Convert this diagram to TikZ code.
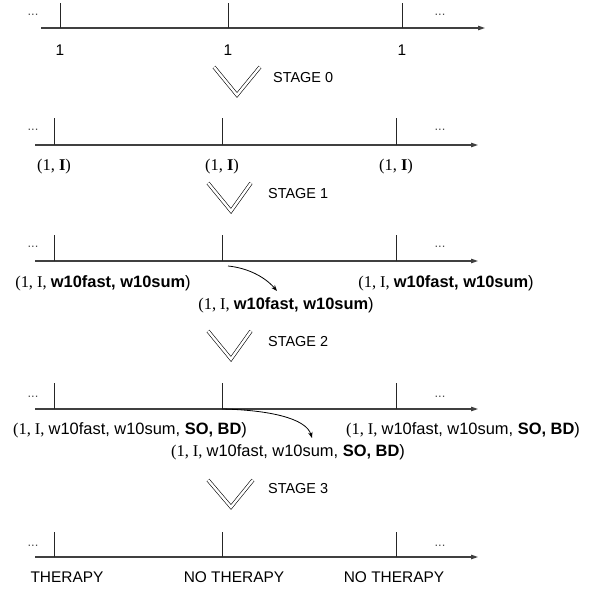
\documentclass[tikz,border=0pt]{standalone}
\usepackage{fontspec}
\setmainfont{Liberation Sans}
\newfontfamily\seriffont{Liberation Serif}
\usetikzlibrary{arrows.meta}
\begin{document}
\begin{tikzpicture}[x=1bp,y=-1bp,
  axis/.style={draw=black!75, line width=1.1bp, -{Triangle[length=7bp,width=4.5bp]}},
  tickline/.style={draw=black!85, line width=0.8bp},
  dots/.style={font=\fontsize{13}{13}\selectfont, text=black!70, inner sep=0, anchor=base},
  lab/.style={font=\fontsize{16.5}{18}\selectfont, inner sep=0},
  one/.style={font=\fontsize{15.5}{17}\selectfont, inner sep=0},
  stage/.style={font=\fontsize{14.5}{16}\selectfont, anchor=west, inner sep=0},
  chev/.style={draw=black, double=white, double distance=2.4bp, line width=0.6bp},
  bendarrow/.style={draw=black, line width=0.8bp, -{Stealth[length=6bp,width=4.5bp]}},
]
\useasboundingbox (0,0) rectangle (589,591);

% ---------- timeline 0 ----------
\coordinate (a0s) at (41,28);
\coordinate (a0e) at (485,28);
\draw[axis] (a0s) -- (a0e);
\foreach \i/\x in {1/60,2/228,3/402}{
  \coordinate (t0\i) at (\x,28);
  \coordinate (t0\i top) at (\x,3);
  \draw[tickline] (t0\i) -- (t0\i top);
}
\node[dots] (d0l) at (33,15.5) {...};
\node[dots] (d0r) at (440,15.5) {...};
\node[one] (l01) at (60,50) {1};
\node[one] (l02) at (228,50) {1};
\node[one] (l03) at (402,50) {1};

\coordinate (c0a) at (214,67); \coordinate (c0b) at (237,95); \coordinate (c0c) at (260,67);
\draw[chev] (c0a) -- (c0b) -- (c0c);
\node[stage] (s0) at (273,78) {STAGE 0};

% ---------- timeline 1 ----------
\coordinate (a1s) at (35,145);
\coordinate (a1e) at (478,145);
\draw[axis] (a1s) -- (a1e);
\foreach \i/\x in {1/54,2/222,3/396}{
  \coordinate (t1\i) at (\x,145);
  \coordinate (t1\i top) at (\x,118);
  \draw[tickline] (t1\i) -- (t1\i top);
}
\node[dots] (d1l) at (33,131) {...};
\node[dots] (d1r) at (440,131) {...};
\node[lab] (l11) at (54,167) {\seriffont (1, \textbf{I})};
\node[lab] (l12) at (222,167) {\seriffont (1, \textbf{I})};
\node[lab] (l13) at (396,167) {\seriffont (1, \textbf{I})};

\coordinate (c1a) at (208,183); \coordinate (c1b) at (231,211); \coordinate (c1c) at (251,183);
\draw[chev] (c1a) -- (c1b) -- (c1c);
\node[stage] (s1) at (268,194) {STAGE 1};

% ---------- timeline 2 ----------
\coordinate (a2s) at (35,261);
\coordinate (a2e) at (478,261);
\draw[axis] (a2s) -- (a2e);
\foreach \i/\x in {1/54,2/222,3/396}{
  \coordinate (t2\i) at (\x,261);
  \coordinate (t2\i top) at (\x,235);
  \draw[tickline] (t2\i) -- (t2\i top);
}
\node[dots] (d2l) at (33,247) {...};
\node[dots] (d2r) at (440,247) {...};
\node[lab] (l21) at (103,283) {{\seriffont (1, I, }\textbf{w10fast, w10sum})};
\node[lab] (l23) at (446,283) {{\seriffont (1, I, }\textbf{w10fast, w10sum})};
\node[lab] (l22) at (286,305) {{\seriffont (1, I, }\textbf{w10fast, w10sum})};
\coordinate (b2s) at (228,266);
\coordinate (b2e) at (277,291);
\draw[bendarrow] (b2s) .. controls (248,268) and (265,277) .. (b2e);

\coordinate (c2a) at (208,331); \coordinate (c2b) at (231,359); \coordinate (c2c) at (251,331);
\draw[chev] (c2a) -- (c2b) -- (c2c);
\node[stage] (s2) at (268,342) {STAGE 2};

% ---------- timeline 3 ----------
\coordinate (a3s) at (35,409);
\coordinate (a3e) at (478,409);
\draw[axis] (a3s) -- (a3e);
\foreach \i/\x in {1/54,2/222,3/396}{
  \coordinate (t3\i) at (\x,409);
  \coordinate (t3\i top) at (\x,383);
  \draw[tickline] (t3\i) -- (t3\i top);
}
\node[dots] (d3l) at (33,397) {...};
\node[dots] (d3r) at (440,397) {...};
\node[lab] (l31) at (130,430) {{\seriffont (1, I, }w10fast, w10sum, \textbf{SO, BD})};
\node[lab] (l33) at (463,430) {{\seriffont (1, I, }w10fast, w10sum, \textbf{SO, BD})};
\node[lab] (l32) at (288,452) {{\seriffont (1, I, }w10fast, w10sum, \textbf{SO, BD})};
\coordinate (b3e) at (312,438);
\draw[bendarrow] (t32) .. controls (268,410) and (306,418) .. (b3e);

\coordinate (c3a) at (208,480); \coordinate (c3b) at (231,507); \coordinate (c3c) at (253,480);
\draw[chev] (c3a) -- (c3b) -- (c3c);
\node[stage] (s3) at (268,489) {STAGE 3};

% ---------- timeline 4 ----------
\coordinate (a4s) at (35,557);
\coordinate (a4e) at (478,557);
\draw[axis] (a4s) -- (a4e);
\foreach \i/\x in {1/54,2/222,3/396}{
  \coordinate (t4\i) at (\x,557);
  \coordinate (t4\i top) at (\x,532);
  \draw[tickline] (t4\i) -- (t4\i top);
}
\node[dots] (d4l) at (33,546) {...};
\node[dots] (d4r) at (440,546) {...};
\node[one] (l41) at (67,577) {THERAPY};
\node[one] (l42) at (234,577) {NO THERAPY};
\node[one] (l43) at (394,577) {NO THERAPY};
\end{tikzpicture}
\end{document}
